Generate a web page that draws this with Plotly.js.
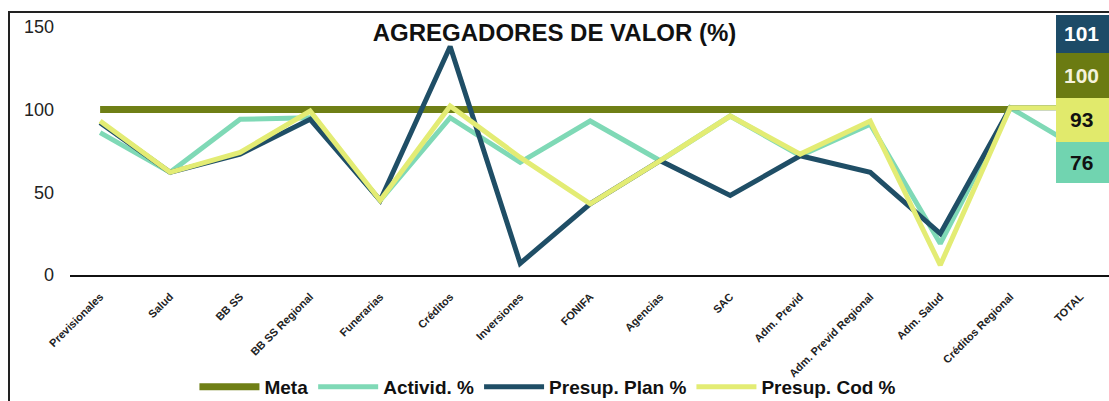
<!DOCTYPE html>
<html>
<head>
<meta charset="utf-8">
<script src="https://cdn.plot.ly/plotly-3.0.1.min.js"></script>
<style>
  body { margin: 0; background: #fff; }
  #chart { position: absolute; left: 0; top: 0; width: 1109px; height: 401px; }
  #frame { position: absolute; left: 8px; top: 11px; width: 1101px; height: 390px;
           border-top: 2px solid #222; border-left: 2px solid #222; pointer-events: none; }
</style>
</head>
<body>
<div id="chart"></div>
<div id="frame"></div>
<script>
var categorias = ['Previsionales','Salud','BB SS','BB SS Regional','Funerarias','Créditos',
                  'Inversiones','FONIFA','Agencias','SAC','Adm. Previd','Adm. Previd Regional',
                  'Adm. Salud','Créditos Regional','TOTAL'];

var meta    = [100,100,100,100,100,100,100,100,100,100,100,100,100,100,null];
var activid = [86, 62, 94, 95, 45, 95, 68, 93, 69, 96, 72, 91, 19, 101, 76];
var plan    = [92, 62, 73, 94, 45, 138, 7, 43, 69, 48, 72, 62, 25, 101, 101];
var cod     = [93, 62, 74, 99, 45, 102, 71, 43, 69, 96, 73, 93, 6, 101, 101];

// valores del recuadro TOTAL
var totalLabels = ['101', '100', '93', '76'];
var totalColors = ['#1d4b67', '#6b7b12', '#e1ea6c', '#71d4b0'];
var totalText   = ['#ffffff', '#f4f2dc', '#111111', '#111111'];

var data = [
  {x: categorias, y: meta,    name: '<b>Meta</b>',          mode: 'lines', type: 'scatter',
   line: {color: '#6f7f16', width: 7}},
  {x: categorias, y: activid, name: '<b>Activid. %</b>',    mode: 'lines', type: 'scatter',
   line: {color: '#7fd9b6', width: 5}},
  {x: categorias, y: plan,    name: '<b>Presup. Plan %</b>', mode: 'lines', type: 'scatter',
   line: {color: '#1f4e66', width: 5}},
  {x: categorias, y: cod,     name: '<b>Presup. Cod %</b>', mode: 'lines', type: 'scatter',
   line: {color: '#e3ec74', width: 5}}
];

// recuadros de totales a la derecha (y en pixeles 15, 53, 98, 142, 183)
var edges = [1.0, 0.854, 0.681, 0.512, 0.354];
var shapes = [];
var annotations = [];
for (var i = 0; i < totalLabels.length; i++) {
  shapes.push({type: 'rect', xref: 'paper', yref: 'paper', layer: 'above',
    x0: 0.949, x1: 1.01, y0: edges[i + 1], y1: edges[i],
    fillcolor: totalColors[i], line: {width: 0}});
  annotations.push({xref: 'paper', yref: 'paper', x: 0.974, y: (edges[i] + edges[i + 1]) / 2,
    text: '<b>' + totalLabels[i] + '</b>', showarrow: false, xanchor: 'center', yanchor: 'middle',
    font: {family: 'Liberation Sans, Arial', size: 21, color: totalText[i]}});
}

var layout = {
  width: 1109, height: 401,
  margin: {l: 70, r: 0, t: 15, b: 126, autoexpand: false},
  paper_bgcolor: '#ffffff', plot_bgcolor: '#ffffff',
  font: {family: 'Liberation Sans, Arial', color: '#222'},
  title: {text: '<b>AGREGADORES DE VALOR (%)</b>', x: 0.5, xref: 'container',
          y: 0.918, yref: 'container', yanchor: 'middle',
          font: {size: 24, color: '#111'}},
  xaxis: {range: [-0.43, 14.41], tickangle: -45, showgrid: false, zeroline: false,
          showline: true, linecolor: '#111', linewidth: 2, ticks: '', ticklabelstandoff: 9,
          tickfont: {size: 11, color: '#222', weight: 'bold'}, fixedrange: true,
          automargin: false},
  yaxis: {range: [0, 157], tickvals: [0, 50, 100, 150], showgrid: false, zeroline: false,
          showline: false, ticks: '', ticklabelstandoff: 15,
          tickfont: {size: 18, color: '#222'}, fixedrange: true, automargin: false},
  showlegend: true,
  legend: {orientation: 'h', x: 0.46, xanchor: 'center', yref: 'container', y: 0.035,
           yanchor: 'middle', bgcolor: 'rgba(0,0,0,0)',
           font: {size: 19, color: '#111'}, itemwidth: 60},
  shapes: shapes,
  annotations: annotations
};

Plotly.newPlot('chart', data, layout, {displayModeBar: false, staticPlot: true});
</script>
</body>
</html>
